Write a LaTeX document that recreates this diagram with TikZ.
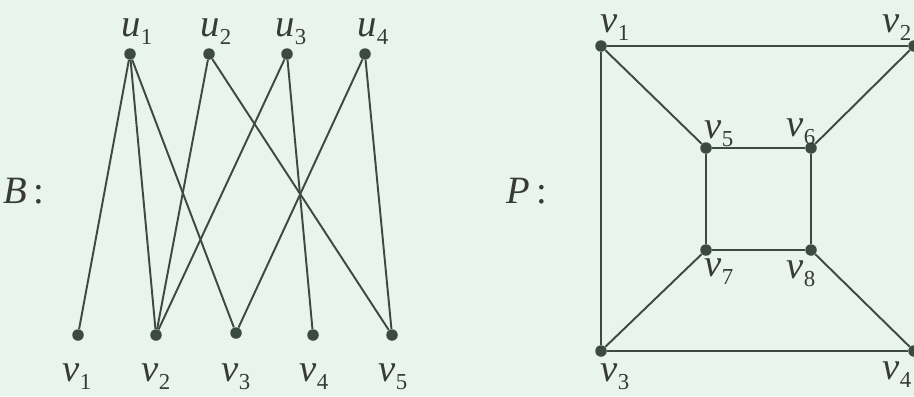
\documentclass[tikz,border=0pt]{standalone}
\usepackage{fontspec}
\setmainfont{Liberation Serif}
\definecolor{mint}{RGB}{232,244,236}
\definecolor{edgegray}{RGB}{60,74,68}
\definecolor{textgray}{RGB}{55,58,56}
\newcommand{\sublbl}[2]{\textit{#1}\raisebox{-0.45ex}{\fontsize{13}{15}\selectfont #2}}

\begin{document}
\begin{tikzpicture}[x=0.2mm, y=-0.2mm]
% Styles
\tikzstyle{vertex} = [circle, fill=edgegray, inner sep=0pt, minimum size=2.3mm]
\tikzstyle{edge} = [draw=edgegray, line width=1.1pt]
\tikzstyle{vlabel} = [font=\fontsize{22}{25}\selectfont, text=textgray, inner sep=0pt]

% Background
\fill[mint] (0,0) rectangle (914,396);
\useasboundingbox (0,0) rectangle (914,396);

% Graph B
\node (bu1) [vertex] at (130,54) {};
\node (bu2) [vertex] at (209,54) {};
\node (bu3) [vertex] at (287,54) {};
\node (bu4) [vertex] at (365,54) {};
\node (bv1) [vertex] at (78,335) {};
\node (bv2) [vertex] at (156,335) {};
\node (bv3) [vertex] at (236,333) {};
\node (bv4) [vertex] at (313,335) {};
\node (bv5) [vertex] at (392,335) {};

\node (lbu1) [vlabel] at (137,32) {\sublbl{u}{1}};
\node (lbu2) [vlabel] at (216,32) {\sublbl{u}{2}};
\node (lbu3) [vlabel] at (291,32) {\sublbl{u}{3}};
\node (lbu4) [vlabel] at (373,32) {\sublbl{u}{4}};
\node (lbv1) [vlabel] at (77,377) {\sublbl{v}{1}};
\node (lbv2) [vlabel] at (156,377) {\sublbl{v}{2}};
\node (lbv3) [vlabel] at (236,377) {\sublbl{v}{3}};
\node (lbv4) [vlabel] at (314,377) {\sublbl{v}{4}};
\node (lbv5) [vlabel] at (393,377) {\sublbl{v}{5}};
\node (lb) [vlabel] at (24,191) {\textit{B}\,:};

\draw [edge] (bu1) -- (bv1);
\draw [edge] (bu1) -- (bv2);
\draw [edge] (bu1) -- (bv3);
\draw [edge] (bu2) -- (bv2);
\draw [edge] (bu2) -- (bv5);
\draw [edge] (bu3) -- (bv2);
\draw [edge] (bu3) -- (bv4);
\draw [edge] (bu4) -- (bv3);
\draw [edge] (bu4) -- (bv5);

% Graph P
\node (pv1) [vertex] at (601,46) {};
\node (pv2) [vertex] at (914,46) {};
\node (pv3) [vertex] at (601,351) {};
\node (pv4) [vertex] at (914,351) {};
\node (pv5) [vertex] at (706,148) {};
\node (pv6) [vertex] at (811,148) {};
\node (pv7) [vertex] at (706,250) {};
\node (pv8) [vertex] at (811,250) {};

\node (lpv1) [vlabel] at (615,28) {\sublbl{v}{1}};
\node (lpv2) [vlabel] at (897,28) {\sublbl{v}{2}};
\node (lpv3) [vlabel] at (615,377) {\sublbl{v}{3}};
\node (lpv4) [vlabel] at (897,375) {\sublbl{v}{4}};
\node (lpv5) [vlabel] at (719,134) {\sublbl{v}{5}};
\node (lpv6) [vlabel] at (801,132) {\sublbl{v}{6}};
\node (lpv7) [vlabel] at (719,272) {\sublbl{v}{7}};
\node (lpv8) [vlabel] at (801,274) {\sublbl{v}{8}};
\node (lp) [vlabel] at (527,191) {\textit{P}\,:};

\draw [edge] (pv1) -- (pv2);
\draw [edge] (pv1) -- (pv3);
\draw [edge] (pv3) -- (pv4);
\draw [edge] (pv1) -- (pv5);
\draw [edge] (pv2) -- (pv6);
\draw [edge] (pv3) -- (pv7);
\draw [edge] (pv4) -- (pv8);
\draw [edge] (pv5) -- (pv6);
\draw [edge] (pv6) -- (pv8);
\draw [edge] (pv8) -- (pv7);
\draw [edge] (pv7) -- (pv5);

\end{tikzpicture}
\end{document}
